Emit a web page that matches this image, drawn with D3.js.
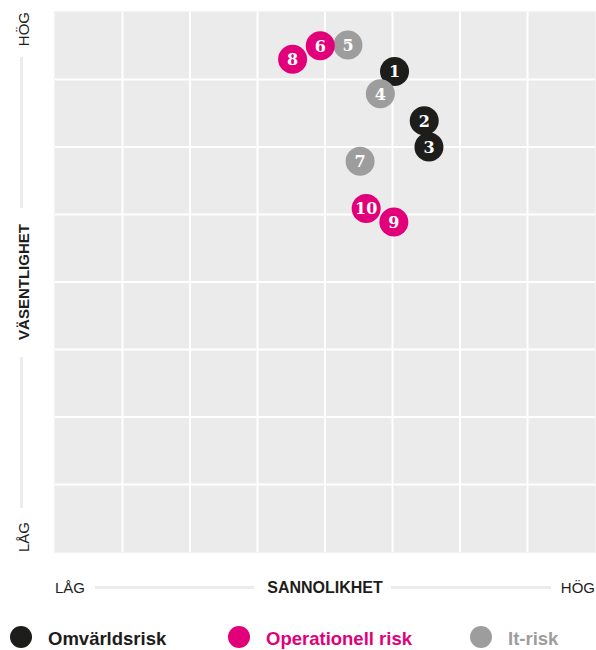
<!DOCTYPE html>
<html>
<head>
<meta charset="utf-8">
<script src="https://cdn.jsdelivr.net/npm/d3@7"></script>
<style>
  html, body { margin: 0; padding: 0; background: #fff; }
  svg { display: block; }
</style>
</head>
<body>
<svg id="chart" width="596" height="650"></svg>
<script>
// ---- data ----
const riskIds      = [1, 2, 3, 4, 5, 6, 7, 8, 9, 10];
const riskTypes    = ["omv", "omv", "omv", "it", "it", "op", "it", "op", "op", "op"];
const probability  = [5.03, 5.47, 5.54, 4.82, 4.34, 3.93, 4.52, 3.52, 5.02, 4.61];
const significance = [7.12, 6.39, 6.00, 6.79, 7.51, 7.50, 5.79, 7.30, 4.89, 5.09];
const drawOrder    = [8, 10, 1, 2, 3, 4, 5, 6, 7, 9];
const legendKeys   = ["omv", "op", "it"];
const legendLabels = ["Omvärldsrisk", "Operationell risk", "It-risk"];
const gridTicks    = [1, 2, 3, 4, 5, 6, 7];
const axisTexts    = { low: "LÅG", high: "HÖG", x: "SANNOLIKHET", y: "VÄSENTLIGHET" };

const colors = { omv: "#1d1d1b", op: "#e2007a", it: "#9d9d9d" };
const textColors = { omv: "#1d1d1b", op: "#e2007a", it: "#9d9d9d" };

const svg = d3.select("#chart");
const pL = 55, pR = 595, pT = 12, pB = 552;
const x = d3.scaleLinear().domain([0, 8]).range([pL, pR]);
const y = d3.scaleLinear().domain([0, 8]).range([pB, pT]);
const sans = "'Liberation Sans', Arial, Helvetica, sans-serif";

// plot background
svg.append("rect")
  .attr("x", pL - 0.5).attr("y", pT - 0.5)
  .attr("width", pR - pL + 1).attr("height", pB - pT + 1)
  .attr("fill", "#ebebeb").attr("stroke", "#f3f3f3").attr("stroke-width", 1);

// grid
svg.append("g").selectAll("line").data(gridTicks).join("line")
  .attr("x1", d => x(d)).attr("x2", d => x(d))
  .attr("y1", pT).attr("y2", pB)
  .attr("stroke", "#fff").attr("stroke-width", 2);
svg.append("g").selectAll("line").data(gridTicks).join("line")
  .attr("y1", d => y(d)).attr("y2", d => y(d))
  .attr("x1", pL).attr("x2", pR)
  .attr("stroke", "#fff").attr("stroke-width", 2);

// y axis labels (rotated)
const yAx = svg.append("g");
const yx = 28.5;
yAx.append("text").attr("transform", `translate(${yx},${pT}) rotate(-90)`)
  .attr("text-anchor", "end").attr("font-family", sans).attr("font-size", 15)
  .attr("fill", "#1d1d1b").text(axisTexts.high);
yAx.append("text").attr("transform", `translate(${yx},${pB}) rotate(-90)`)
  .attr("text-anchor", "start").attr("font-family", sans).attr("font-size", 15)
  .attr("fill", "#1d1d1b").text(axisTexts.low);
yAx.append("text").attr("transform", `translate(${yx},${(pT + pB) / 2}) rotate(-90)`)
  .attr("text-anchor", "middle").attr("font-family", sans).attr("font-size", 15)
  .attr("font-weight", "bold").attr("fill", "#1d1d1b").text(axisTexts.y);
yAx.append("line").attr("x1", 21.5).attr("x2", 21.5).attr("y1", 57).attr("y2", 208)
  .attr("stroke", "#ececec").attr("stroke-width", 3);
yAx.append("line").attr("x1", 21.5).attr("x2", 21.5).attr("y1", 357).attr("y2", 508)
  .attr("stroke", "#ececec").attr("stroke-width", 3);

// x axis labels
const xAx = svg.append("g");
const xy = 593;
xAx.append("text").attr("x", pL).attr("y", xy).attr("text-anchor", "start")
  .attr("font-family", sans).attr("font-size", 15).attr("fill", "#1d1d1b").text(axisTexts.low);
xAx.append("text").attr("x", pR).attr("y", xy).attr("text-anchor", "end")
  .attr("font-family", sans).attr("font-size", 15).attr("fill", "#1d1d1b").text(axisTexts.high);
xAx.append("text").attr("x", (pL + pR) / 2).attr("y", xy).attr("text-anchor", "middle")
  .attr("font-family", sans).attr("font-size", 16).attr("font-weight", "bold")
  .attr("fill", "#1d1d1b").text(axisTexts.x);
xAx.append("line").attr("x1", 95).attr("x2", 254).attr("y1", 587.5).attr("y2", 587.5)
  .attr("stroke", "#ececec").attr("stroke-width", 3);
xAx.append("line").attr("x1", 391).attr("x2", 551).attr("y1", 587.5).attr("y2", 587.5)
  .attr("stroke", "#ececec").attr("stroke-width", 3);

// points
const pts = riskIds.map((id, i) => ({ id, type: riskTypes[i], px: probability[i], sy: significance[i] }))
  .sort((a, b) => drawOrder.indexOf(a.id) - drawOrder.indexOf(b.id));
const pg = svg.append("g").selectAll("g").data(pts).join("g")
  .attr("transform", d => `translate(${x(d.px)},${y(d.sy)})`);
pg.append("circle").attr("r", 14.5).attr("fill", d => colors[d.type]);
pg.append("text").attr("text-anchor", "middle").attr("dy", "0.37em")
  .attr("font-family", "'DejaVu Serif', Georgia, serif").attr("font-weight", "bold")
  .attr("font-size", 16).attr("fill", "#fff").text(d => d.id);

// legend
const legX = [21, 239, 481];
const lg = svg.append("g").selectAll("g").data(legendKeys).join("g")
  .attr("transform", (d, i) => `translate(${legX[i]},637)`);
lg.append("circle").attr("r", 11).attr("fill", d => colors[d]);
lg.append("text").attr("x", 27).attr("y", 7.5).attr("font-family", sans)
  .attr("font-size", 18.5).attr("font-weight", "bold")
  .attr("fill", d => textColors[d]).text((d, i) => legendLabels[i]);
</script>
</body>
</html>
